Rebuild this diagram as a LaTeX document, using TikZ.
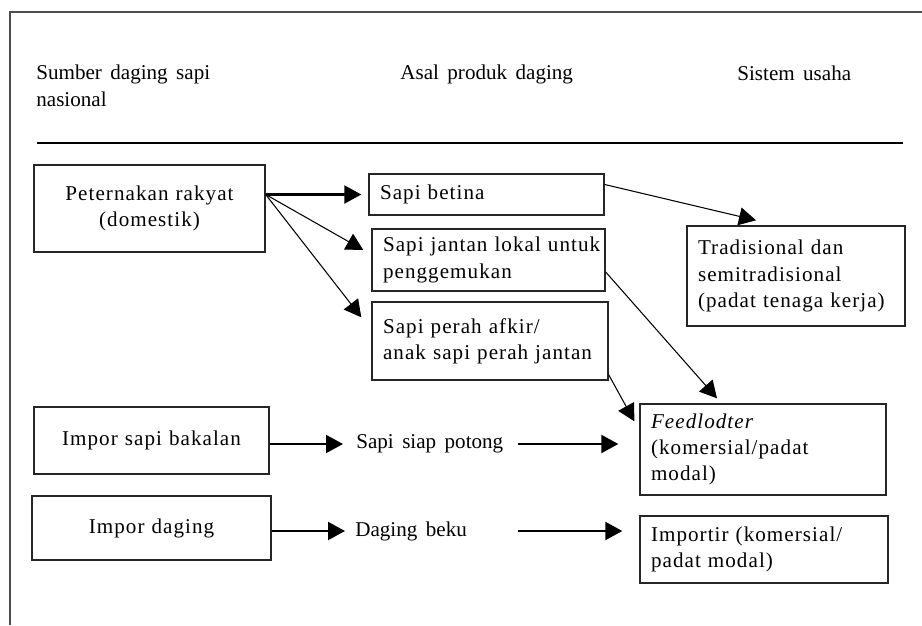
\documentclass[tikz,border=0pt]{standalone}
\usepackage{fontspec}
\setmainfont{Liberation Serif}[WordSpace=1.6]
\newfontfamily\spacedfont{Liberation Serif}[WordSpace=1.6,LetterSpace=5]
\usetikzlibrary{arrows.meta,calc}

\begin{document}
\begin{tikzpicture}[x=0.02cm,y=-0.02cm,font=\fontsize{12}{15}\selectfont,
  box/.style={draw=black!85,line width=0.8pt,inner xsep=0.22cm,inner ysep=0pt,
    font=\fontsize{12}{15}\spacedfont},
  lbox/.style={box,align=left},
  cbox/.style={box,align=center},
  head/.style={anchor=north west,inner sep=0pt,align=left},
  lbl/.style={anchor=west,inner sep=0pt},
  arr/.style={-{Triangle[length=0.34cm,width=0.36cm]},line width=0.6pt},
  tharr/.style={arr,line width=1.2pt}]
\useasboundingbox (0,0) rectangle (922,625);
\draw[black!70,line width=0.7pt] (10,625) -- (10,12) -- (922,12);
\node[head] (hsum) at (36,65) {Sumber daging sapi\\nasional};
\node[head] (hasal) at (400,65) {Asal produk daging};
\node[head] (hsis) at (737,66) {Sistem usaha};
\draw[line width=1.2pt] (37,143) -- (903,143);
\node[cbox,text width=4.18cm,minimum height=1.74cm] (pet) at (149.5,208.5) {Peternakan rakyat\\(domestik)};
\node[lbox,text width=4.26cm,minimum height=0.82cm] (bet) at (486.5,194.5) {Sapi betina};
\node[lbox,text width=4.22cm,minimum height=1.24cm] (jan) at (488.5,260) {\mbox{Sapi jantan lokal untuk}\\penggemukan};
\node[lbox,text width=4.28cm,minimum height=1.56cm] (per) at (490,341) {Sapi perah afkir/\\anak sapi perah jantan};
\node[lbox,text width=3.92cm,minimum height=2cm] (trad) at (796,276) {Tradisional dan\\semitradisional\\(padat tenaga kerja)};
\node[cbox,text width=4.26cm,minimum height=1.34cm] (bak) at (151.5,440.5) {Impor sapi bakalan};
\node[cbox,text width=4.34cm,minimum height=1.28cm] (imd) at (151.5,528) {Impor daging};
\node[lbox,text width=4.48cm,minimum height=1.82cm] (feed) at (763,449.5) {\textit{Feedlodter}\\(komersial/padat\\modal)};
\node[lbox,text width=4.52cm,minimum height=1.34cm] (imp) at (764,549.5) {Importir (komersial/\\padat modal)};
\node[lbl] (siap) at (356,444) {Sapi siap potong};
\node[lbl] (beku) at (355,531) {Daging beku};
\coordinate (cut) at ($(siap.west)+(162,0)$);
\coordinate (src) at (pet.east |- bet.west);
\draw[tharr] (src) -- ($(bet.west)+(-7,0)$);
\draw[arr] (src) -- ($(jan.west)+(-8,-10)$);
\draw[arr] (src) -- ($(per.north west)+(-10,16)$);
\draw[arr] ($(bet.east)+(0,-10)$) -- ($(trad.north)+(-40,-5)$);
\draw[arr] ($(jan.east)+(0,12)$) -- ($(feed.north)+(-46,-5)$);
\draw[arr] ($(per.south east)+(0,-6)$) -- ($(feed.north west)+(-5,18)$);
\draw[tharr] (bak.east |- siap.west) -- ($(siap.west)+(-13,0)$);
\draw[tharr] (cut) -- ($(siap.east -| feed.west)+(-21,0)$);
\draw[tharr] (imd.east |- beku.west) -- ($(beku.west)+(-10,0)$);
\draw[tharr] (cut |- beku.west) -- ($(beku.west -| imp.west)+(-17,0)$);
\end{tikzpicture}
\end{document}
